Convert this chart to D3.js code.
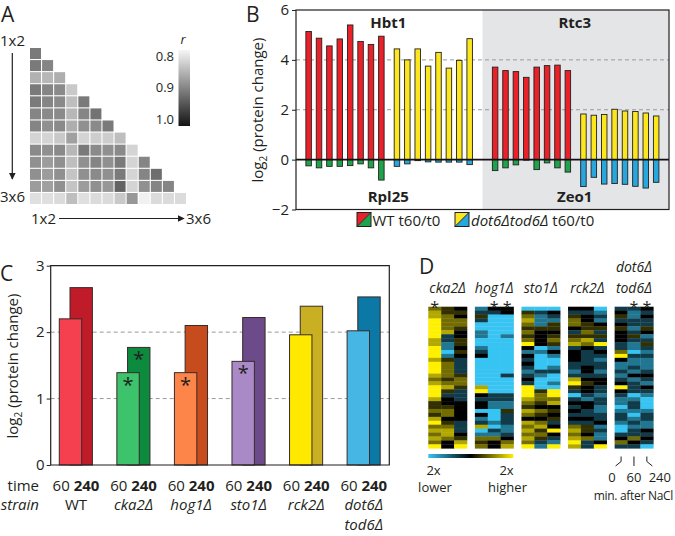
<!DOCTYPE html>
<html><head><meta charset="utf-8">
<script src="https://cdn.jsdelivr.net/npm/d3@7"></script>
<style>
body{margin:0;background:#fff}
text{font-family:"Open Sans","Noto Sans",sans-serif;fill:#231f20}
</style>
</head><body>
<svg id="c" width="675" height="536"></svg>
<script>
// ===================== DATA =====================
// Panel A: lower-triangle correlation (r) between replicates
const corrR = [
  [0.91],
  [0.91,0.90],
  [0.86,0.856,0.864],
  [0.91,0.90,0.896,0.84],
  [0.91,0.90,0.896,0.85,0.91],
  [0.90,0.896,0.896,0.856,0.90,0.916],
  [0.90,0.89,0.896,0.864,0.89,0.896,0.91],
  [0.83,0.83,0.84,0.876,0.83,0.836,0.836,0.85],
  [0.896,0.89,0.896,0.856,0.91,0.896,0.89,0.896,0.83],
  [0.89,0.88,0.89,0.85,0.89,0.90,0.89,0.91,0.83,0.90],
  [0.89,0.88,0.89,0.844,0.89,0.896,0.89,0.91,0.83,0.90,0.92],
  [0.88,0.876,0.89,0.844,0.88,0.89,0.884,0.93,0.83,0.89,0.90,0.90],
  [0.82,0.82,0.824,0.85,0.82,0.824,0.824,0.84,0.884,0.804,0.824,0.824,0.824]
];
const corrTicks = [0.8, 0.9, 1.0];
const sampleEnds = ["1x2", "3x6"];

// Panel B
const bUpProteins = ["Hbt1", "Rtc3"];
const bDownProteins = ["Rpl25", "Zeo1"];
const hbt1WT   = [5.14, 4.87, 4.56, 4.84, 5.40, 4.74, 4.62, 4.95];
const hbt1Dot6 = [4.44, 4.00, 4.44, 3.75, 4.30, 3.67, 3.98, 4.85];
const rpl25WT   = [-0.25, -0.33, -0.27, -0.27, -0.24, -0.17, -0.33, -0.82];
const rpl25Dot6 = [-0.27, -0.17, -0.04, -0.09, -0.10, -0.10, -0.10, -0.20];
const rtc3WT   = [3.71, 3.57, 3.53, 3.30, 3.71, 3.77, 3.79, 3.57];
const rtc3Dot6 = [1.83, 1.78, 1.81, 2.02, 1.95, 1.93, 1.87, 1.75];
const zeo1WT   = [-0.44, -0.33, -0.21, -0.02, -0.40, -0.13, -0.33, -0.50];
const zeo1Dot6 = [-1.08, -0.71, -0.98, -0.96, -0.99, -1.07, -1.14, -0.91];
const bTicks = [-2, 0, 2, 4, 6];
const bGrid = [2, 4];

// Panel C
const strains = ["WT", "cka2Δ", "hog1Δ", "sto1Δ", "rck2Δ", "dot6Δ|tod6Δ"];
const t60  = [2.20, 1.39, 1.39, 1.56, 1.96, 2.02];
const t240 = [2.67, 1.77, 2.10, 2.22, 2.39, 2.53];
const sig60  = [false, true, true, true, false, false];
const sig240 = [false, true, false, false, false, false];
const cTicks = [0, 1, 2, 3];
const cGrid = [1, 2];

// Panel D: heatmap, 3 time points (0, 60, 240 min) per mutant
// code: Y=+1, y=+0.7, o=+0.45, d=+0.2, k=0, b=-0.3, m=-0.6, c=-1 (log2 scale, 2x)
const dMutants = ["cka2Δ", "hog1Δ", "sto1Δ", "rck2Δ", "tod6Δ"];
const heatCka2 = ["oyyYYYYYyyYYYyYYYyoyYYYyddodyYoyoyoY","ddooooybbmmcmdoooodoydbkkdookdoyyokk","kdkoodkkddkdkbbbbdoodbbbkkkkkbbbkdyY"];
const heatHog1 = ["mbdbccmmccmbkcccccccyYkbkkckmbycmodo","kbccccccccccccccccccccbbmmcccmcbmokk","kkcccccmcccccccccbccccbbmmdbbbmmbkoy"];
const heatSto1 = ["cdoyododoYkmkbkbmbkbYYYyodyokyoyoyoY","cbmmmdkkkkcmccccbmcccdoodkodkoydodbm","ckbmddkdodmkmccmbccmcYYoykdkdbkYkbmY"];
const heatRck2 = ["kbdookbdoybkkkbbmbyYdbcbkbkbkboyoyYy","kbkkddodyokbbbbkkbkdkkbmkkbbkbddkobb","cmbmkdbdbYbkbmbbmbkkbbmbbmmbbkmbmmkY"];
const heatDot6 = ["bkdbkdkkkbboYkmmbmbkYkbmmcmbbmccbkob","bmmbbmbdbmmcbmmbmkmbbbcmbbmcmbmbbokb","kbkbbdkmbdbmbmmmbkbmkbmcccmbbmmkbkbc"];
const heatCodes = {Y:1, y:0.7, o:0.45, d:0.2, k:0, b:-0.3, m:-0.6, c:-1};
const dStars = [[0], [1, 2], [], [], [1, 2]];
const dTimes = ["0", "60", "240"];

// ===================== DRAW =====================
const svg = d3.select("#c");
const defs = svg.append("defs");
defs.append("marker").attr("id","arr").attr("viewBox","0 0 10 10").attr("refX",9).attr("refY",5)
  .attr("markerWidth",7).attr("markerHeight",7).attr("markerUnits","userSpaceOnUse").attr("orient","auto")
  .append("path").attr("d","M0,0 L10,5 L0,10 z").attr("fill","#231f20");

function panelLetter(t, x, y) {
  svg.append("text").attr("x", x).attr("y", y).attr("font-size", 21).text(t);
}

// ---------- Panel A ----------
panelLetter("A", 1, 22);
const xA = d3.scaleBand().domain(d3.range(13)).range([30, 186]).paddingInner(0.09);
const yA = d3.scaleBand().domain(d3.range(13)).range([48, 204]).paddingInner(0.09);
const grayA = d3.scaleLinear().domain([0.8, 1.0]).range(["#f6f6f6", "#141414"]);
const gA = svg.append("g");
corrR.forEach((row, i) => {
  gA.selectAll(null).data(row).join("rect")
    .attr("x", (d, j) => xA(j)).attr("y", yA(i))
    .attr("width", xA.bandwidth()).attr("height", yA.bandwidth())
    .attr("fill", d => grayA(d));
});
const gradA = defs.append("linearGradient").attr("id","gradA").attr("x1",0).attr("y1",0).attr("x2",0).attr("y2",1);
gradA.append("stop").attr("offset","0%").attr("stop-color", grayA(0.8));
gradA.append("stop").attr("offset","50%").attr("stop-color", grayA(0.9));
gradA.append("stop").attr("offset","100%").attr("stop-color", grayA(1.0));
svg.append("rect").attr("x",178.5).attr("y",50).attr("width",11.5).attr("height",76).attr("fill","url(#gradA)");
const yAcb = d3.scaleLinear().domain([0.8, 1.0]).range([56, 119.5]);
svg.selectAll(null).data(corrTicks).join("text")
  .attr("x", 174).attr("y", d => yAcb(d)).attr("dy","0.35em").attr("text-anchor","end")
  .attr("font-size", 13).text(d => d.toFixed(1));
svg.append("text").attr("x",183).attr("y",44).attr("font-size",13).attr("font-style","italic").attr("text-anchor","middle").text("r");
svg.append("text").attr("x",0).attr("y",46).attr("font-size",15).text(sampleEnds[0]);
svg.append("text").attr("x",0).attr("y",202).attr("font-size",15).text(sampleEnds[1]);
svg.append("line").attr("x1",12.3).attr("y1",53).attr("x2",12.3).attr("y2",179).attr("stroke","#231f20").attr("stroke-width",1.2).attr("marker-end","url(#arr)");
svg.append("text").attr("x",31).attr("y",223.5).attr("font-size",15).text(sampleEnds[0]);
svg.append("text").attr("x",186).attr("y",223.5).attr("font-size",15).text(sampleEnds[1]);
svg.append("line").attr("x1",59).attr("y1",218.5).attr("x2",184).attr("y2",218.5).attr("stroke","#231f20").attr("stroke-width",1.2).attr("marker-end","url(#arr)");

// ---------- Panel B ----------
panelLetter("B", 246, 22);
const bL = 296, bR = 669, bT = 10, bB = 209.5;
const yB = d3.scaleLinear().domain([-2, 6]).range([bB, bT]);
const halfB = d3.scaleBand().domain(bUpProteins).range([bL, bR]);
const slotB = d3.scaleLinear().domain([-0.95, 17.0]).range([0, halfB.bandwidth()]);
const barW = slotB(0.53) - slotB(0);
const colB = {WTup:"#ea2128", WTdown:"#1ea34b", D6up:"#fce61e", D6down:"#27a7de"};
svg.append("rect").attr("x", halfB("Rtc3")).attr("y", bT).attr("width", halfB.bandwidth()).attr("height", bB - bT).attr("fill","#e4e5e7");
svg.selectAll(null).data(bGrid).join("line")
  .attr("x1", bL).attr("x2", bR).attr("y1", d => yB(d)).attr("y2", d => yB(d))
  .attr("stroke","#9a9a9a").attr("stroke-dasharray","4,3").attr("stroke-width",1);
const bSeries = [
  {prot:"Hbt1", off:0,   vals:hbt1WT,   fill:colB.WTup},
  {prot:"Hbt1", off:8.5, vals:hbt1Dot6, fill:colB.D6up},
  {prot:"Hbt1", off:0,   vals:rpl25WT,  fill:colB.WTdown},
  {prot:"Hbt1", off:8.5, vals:rpl25Dot6,fill:colB.D6down},
  {prot:"Rtc3", off:0,   vals:rtc3WT,   fill:colB.WTup},
  {prot:"Rtc3", off:8.5, vals:rtc3Dot6, fill:colB.D6up},
  {prot:"Rtc3", off:0,   vals:zeo1WT,   fill:colB.WTdown},
  {prot:"Rtc3", off:8.5, vals:zeo1Dot6, fill:colB.D6down}
];
bSeries.forEach(s => {
  svg.selectAll(null).data(s.vals).join("rect")
    .attr("x", (d, i) => halfB(s.prot) + slotB(i + s.off))
    .attr("width", barW)
    .attr("y", d => yB(Math.max(0, d)))
    .attr("height", d => Math.abs(yB(d) - yB(0)))
    .attr("fill", s.fill).attr("stroke","#231f20").attr("stroke-width",0.9);
});
svg.append("line").attr("x1", bL).attr("x2", bR).attr("y1", yB(0)).attr("y2", yB(0)).attr("stroke","#111").attr("stroke-width",1.6);
svg.append("rect").attr("x", bL).attr("y", bT).attr("width", bR - bL).attr("height", bB - bT).attr("fill","none").attr("stroke","#231f20").attr("stroke-width",1.2);
const axB = svg.append("g").attr("transform", `translate(${bL},0)`).call(d3.axisLeft(yB).tickValues(bTicks).tickSize(4).tickFormat(d3.format("d")));
axB.select(".domain").remove();
axB.selectAll("line").attr("stroke","#231f20");
axB.selectAll("text").attr("font-size", 15).attr("font-family","'Open Sans',sans-serif").attr("fill","#231f20").attr("x",-7);
bUpProteins.forEach(p => svg.append("text").attr("x", halfB(p) + halfB.bandwidth()/2 - 1).attr("y", 28).attr("text-anchor","middle").attr("font-size",15).attr("font-weight","bold").text(p));
bDownProteins.forEach((p, i) => svg.append("text").attr("x", halfB(bUpProteins[i]) + halfB.bandwidth()/2 - 1).attr("y", 202).attr("text-anchor","middle").attr("font-size",15).attr("font-weight","bold").text(p));
const ylB = svg.append("text").attr("transform","translate(263,110) rotate(-90)").attr("text-anchor","middle").attr("font-size",15);
ylB.append("tspan").text("log");
ylB.append("tspan").attr("font-size",10).attr("dy",4).text("2");
ylB.append("tspan").attr("dy",-4).text(" (protein change)");
function swatch(x, y, c1, c2) {
  const s = 14;
  svg.append("path").attr("d", `M${x},${y} L${x+s},${y} L${x},${y+s} Z`).attr("fill", c1);
  svg.append("path").attr("d", `M${x+s},${y} L${x+s},${y+s} L${x},${y+s} Z`).attr("fill", c2);
  svg.append("line").attr("x1", x).attr("y1", y+s).attr("x2", x+s).attr("y2", y).attr("stroke","#231f20").attr("stroke-width",1);
  svg.append("rect").attr("x", x).attr("y", y).attr("width", s).attr("height", s).attr("fill","none").attr("stroke","#231f20").attr("stroke-width",1);
}
swatch(357, 212.5, colB.WTup, colB.WTdown);
svg.append("text").attr("x", 372.5).attr("y", 226).attr("font-size",15).text("WT t60/t0");
swatch(455, 212.5, colB.D6up, colB.D6down);
const lg2 = svg.append("text").attr("x", 471).attr("y", 226).attr("font-size",15);
lg2.append("tspan").attr("font-style","italic").text("dot6Δtod6Δ");
lg2.append("tspan").text(" t60/t0");

// ---------- Panel C ----------
panelLetter("C", 0, 281);
const cL = 50.7, cR = 389.3, cT = 265.7, cB = 465;
const yC = d3.scaleLinear().domain([0, 3]).range([cB, cT]);
const xC = d3.scalePoint().domain(strains).range([cL + 25.3, cR - 25.5]);
const cBarW = 22.4;
const col60  = ["#f5414f", "#3cc36c", "#fd854a", "#a98ac6", "#ffe900", "#46b7e5"];
const col240 = ["#bf1b29", "#0c8a3e", "#c64b1d", "#6d4a89", "#c9b022", "#0b78a6"];
const cRows60  = strains.map((s, i) => ({s, v: t60[i],  sig: sig60[i],  fill: col60[i],  off: -16.7}));
const cRows240 = strains.map((s, i) => ({s, v: t240[i], sig: sig240[i], fill: col240[i], off: -6}));
svg.selectAll(null).data(cGrid).join("line")
  .attr("x1", cL).attr("x2", cR).attr("y1", d => yC(d)).attr("y2", d => yC(d))
  .attr("stroke","#9a9a9a").attr("stroke-dasharray","4,3");
[cRows240, cRows60].forEach(rows => {
  svg.selectAll(null).data(rows).join("rect")
    .attr("x", d => xC(d.s) + d.off).attr("width", cBarW)
    .attr("y", d => yC(d.v)).attr("height", d => yC(0) - yC(d.v))
    .attr("fill", d => d.fill).attr("stroke","#3a2a2a").attr("stroke-width",1);
});
[cRows240, cRows60].forEach(rows => {
  svg.selectAll(null).data(rows.filter(d => d.sig)).join("text")
    .attr("x", d => xC(d.s) + d.off + cBarW/2).attr("y", d => yC(d.v) + 19)
    .attr("text-anchor","middle").attr("font-size",20).text("*");
});
svg.append("path").attr("d", `M${cL},${cT} H${cR} V${cB} H${cL} Z`).attr("fill","none").attr("stroke","#231f20").attr("stroke-width",1.2);
const axC = svg.append("g").attr("transform", `translate(${cL},0)`).call(d3.axisLeft(yC).tickValues(cTicks).tickSize(4).tickFormat(d3.format("d")));
axC.select(".domain").remove();
axC.selectAll("line").attr("stroke","#231f20");
axC.selectAll("text").attr("font-size", 15).attr("font-family","'Open Sans',sans-serif").attr("fill","#231f20").attr("x",-6);
const ylC = svg.append("text").attr("transform","translate(18,366) rotate(-90)").attr("text-anchor","middle").attr("font-size",15);
ylC.append("tspan").text("log");
ylC.append("tspan").attr("font-size",10).attr("dy",4).text("2");
ylC.append("tspan").attr("dy",-4).text(" (protein change)");
svg.append("text").attr("x",39).attr("y",491).attr("text-anchor","end").attr("font-size",15).text("time");
svg.append("text").attr("x",39).attr("y",510).attr("text-anchor","end").attr("font-size",15).attr("font-style","italic").text("strain");
strains.forEach((s, i) => {
  const t = svg.append("text").attr("x", xC(s)).attr("y", 491).attr("text-anchor","middle").attr("font-size",15);
  t.append("tspan").text("60 ");
  t.append("tspan").attr("font-weight","bold").text("240");
  s.split("|").forEach((line, k) => {
    svg.append("text").attr("x", xC(s)).attr("y", 510 + k * 20).attr("text-anchor","middle").attr("font-size",15)
      .attr("font-style", s === "WT" ? "normal" : "italic").text(line);
  });
});

// ---------- Panel D ----------
panelLetter("D", 419, 274);
const heats = [heatCka2, heatHog1, heatSto1, heatRck2, heatDot6];
const xD = d3.scaleBand().domain(dMutants).range([428.3, 653.3]).paddingInner(0.17);
const colD = d3.scaleBand().domain(dTimes).range([0, xD.bandwidth()]);
const yD = d3.scaleBand().domain(d3.range(36)).range([306.7, 448.3]);
const heatColor = d3.scaleLinear().domain([-1, 0, 1]).range(["#37c4f2", "#000000", "#fff000"]);
heats.forEach((cols, bi) => {
  const m = dMutants[bi];
  cols.forEach((str, ci) => {
    const vals = str.split("").map(ch => heatCodes[ch]);
    svg.selectAll(null).data(vals).join("rect")
      .attr("x", xD(m) + colD(dTimes[ci])).attr("y", (d, r) => yD(r))
      .attr("width", colD.bandwidth() + 0.3).attr("height", yD.bandwidth() + 0.3)
      .attr("fill", d => heatColor(d));
  });
  svg.append("text").attr("x", xD(m) + xD.bandwidth()/2).attr("y", 293).attr("text-anchor","middle")
    .attr("font-size",14).attr("font-style","italic").text(m);
  dStars[bi].forEach(ci => {
    svg.append("text").attr("x", xD(m) + colD(dTimes[ci]) + colD.bandwidth()/2).attr("y", 313)
      .attr("text-anchor","middle").attr("font-size",16).text("*");
  });
});
svg.append("text").attr("x", xD("tod6Δ") + xD.bandwidth()/2).attr("y", 272).attr("text-anchor","middle")
  .attr("font-size",14).attr("font-style","italic").text("dot6Δ");
const gradD = defs.append("linearGradient").attr("id","gradD");
[-1, 0, 1].forEach(v => gradD.append("stop").attr("offset", ((v + 1) / 2 * 100) + "%").attr("stop-color", heatColor(v)));
svg.append("rect").attr("x", 428.3).attr("y", 454).attr("width", 85).attr("height", 4).attr("fill","url(#gradD)");
svg.append("text").attr("x",433.5).attr("y",475).attr("text-anchor","middle").attr("font-size",13).text("2x");
svg.append("text").attr("x",435).attr("y",492).attr("text-anchor","middle").attr("font-size",13).text("lower");
svg.append("text").attr("x",506.5).attr("y",475).attr("text-anchor","middle").attr("font-size",13).text("2x");
svg.append("text").attr("x",507.5).attr("y",492).attr("text-anchor","middle").attr("font-size",13).text("higher");
const xm = xD("tod6Δ");
const cx = t => xm + colD(t) + colD.bandwidth()/2;
const brk = [
  `M${cx("0")},456.5 V461.5 L${cx("0") - 5.5},466`,
  `M${cx("60")},456.5 V466`,
  `M${cx("240")},456.5 V461.5 L${cx("240") + 5.5},466`
];
brk.forEach(d => svg.append("path").attr("d", d).attr("fill","none").attr("stroke","#231f20").attr("stroke-width",1));
const tLabX = [cx("0") - 9, cx("60"), cx("240") + 13];
dTimes.forEach((t, i) => svg.append("text").attr("x", tLabX[i]).attr("y", 482).attr("text-anchor","middle").attr("font-size",13).text(t));
svg.append("text").attr("x", 673).attr("y", 500).attr("text-anchor","end").attr("font-size",12).attr("letter-spacing","-0.3").text("min. after NaCl");
</script>
</body></html>
